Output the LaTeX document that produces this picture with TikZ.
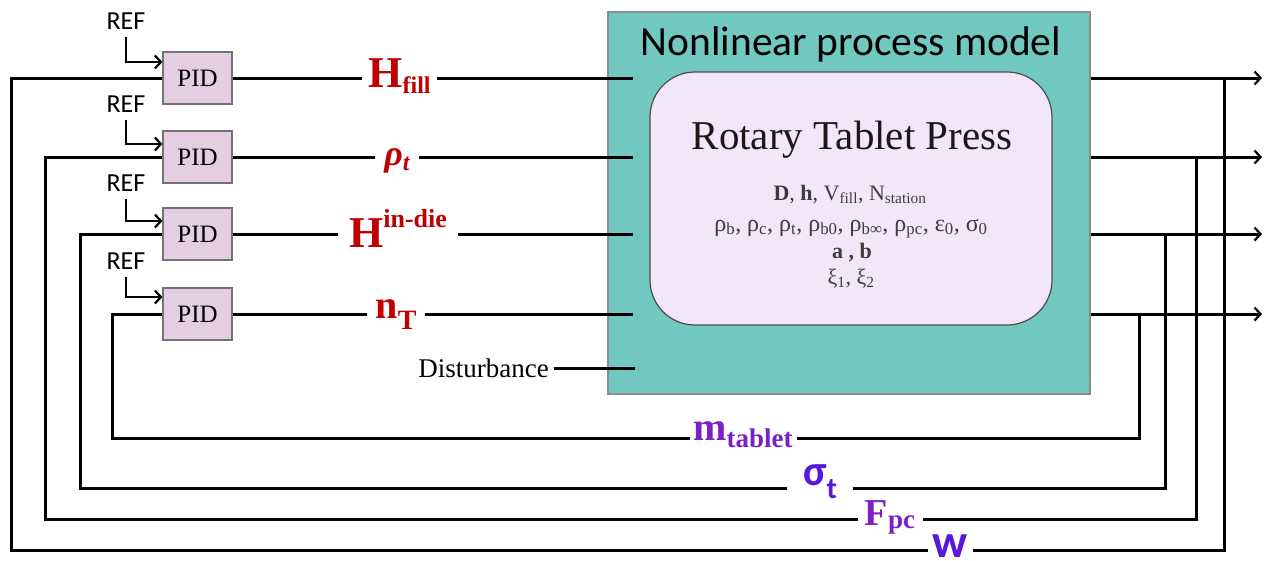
\documentclass[tikz,border=0pt]{standalone}
\usepackage{fontspec}
\setmainfont{Liberation Serif}
\setsansfont{Carlito}
\usetikzlibrary{arrows.meta}

\definecolor{modelgreen}{RGB}{112,200,192}
\definecolor{pressfill}{RGB}{243,230,251}
\definecolor{pidfill}{RGB}{229,206,227}
\definecolor{inred}{RGB}{192,0,0}
\definecolor{fbviolet}{RGB}{122,32,198}
\definecolor{fbblue}{RGB}{88,24,222}
\definecolor{partext}{RGB}{60,60,60}

\newcommand\fs[1]{\fontsize{#1}{#1}\selectfont}

\begin{document}
\begin{tikzpicture}[x=1pt,y=-1pt,
  wire/.style={line width=3pt, black},
  tip/.style={-{Straight Barb[length=6pt,width=13pt,line width=2.2pt]}},
  pidbox/.style={draw=black!55, line width=1.2pt, fill=pidfill, minimum width=69pt,
    minimum height=52pt, inner sep=0pt, font=\fs{25}},
  reftext/.style={font=\sffamily\fs{26}, inner xsep=0pt, inner ysep=8pt, anchor=base},
  sig/.style={fill=white, inner xsep=0pt, inner ysep=3pt, anchor=base},
  param/.style={font=\fs{22}, text=partext, anchor=base, inner sep=0pt}
]
\useasboundingbox (0,0) rectangle (1265,560);

% process model block
\node[draw=black!45, line width=1.2pt, fill=modelgreen, minimum width=482pt,
  minimum height=382pt, inner sep=0pt] (model) at (849,203) {};
\node[draw=black!70, line width=1.2pt, fill=pressfill, rounded corners=45pt,
  minimum width=402pt, minimum height=253pt, inner sep=0pt] (press) at (851,198.5) {};
\node[font=\sffamily\fs{41.5}, anchor=base, inner sep=0pt] (title) at (851,55) {Nonlinear process model};
\node[font=\fs{41}, anchor=base, inner sep=0pt, text=black!90] (rtp) at (852,149) {Rotary Tablet Press};
\node[param] (p1) at (850,200) {\textbf{D}, \textbf{h}, V\textsubscript{fill}, N\textsubscript{station}};
\node[param, font=\fs{24}] (p2) at (851,231) {ρ\textsubscript{b}, ρ\textsubscript{c}, ρ\textsubscript{t}, ρ\textsubscript{b0}, ρ\textsubscript{b∞}, ρ\textsubscript{pc}, ε\textsubscript{0}, σ\textsubscript{0}};
\node[param] (p3) at (852,258) {\textbf{a , b}};
\node[param] (p4) at (851,284) {ξ\textsubscript{1}, ξ\textsubscript{2}};

% controllers
\node[pidbox] (pid1) at (197.5,78) {PID};
\node[pidbox] (pid2) at (197.5,157) {PID};
\node[pidbox] (pid3) at (197.5,234) {PID};
\node[pidbox] (pid4) at (197.5,314) {PID};

\node[reftext] (ref1) at (126,29) {REF};
\node[reftext] (ref2) at (126,112) {REF};
\node[reftext] (ref3) at (126,191) {REF};
\node[reftext] (ref4) at (126,269) {REF};

\node[font=\fs{27}, anchor=east, inner xsep=5pt, inner ysep=0pt] (dist) at (554,368) {Disturbance};

% set points
\draw[wire, line width=2.4pt, tip] (ref1.south) |- ([yshift=16pt]pid1.west);
\draw[wire, line width=2.4pt, tip] (ref2.south) |- ([yshift=13pt]pid2.west);
\draw[wire, line width=2.4pt, tip] (ref3.south) |- ([yshift=13pt]pid3.west);
\draw[wire, line width=2.4pt, tip] (ref4.south) |- ([yshift=17pt]pid4.west);

% manipulated inputs
\coordinate (in1) at (633,78);
\coordinate (in2) at (633,157);
\coordinate (in3) at (633,234);
\coordinate (in4) at (633,314);
\coordinate (in5) at (635,368);
\draw[wire] (pid1.east) -- (in1);
\draw[wire] (pid2.east) -- (in2);
\draw[wire] (pid3.east) -- (in3);
\draw[wire] (pid4.east) -- (in4);
\draw[wire] (dist.east) -- (in5);

% outputs
\coordinate (o1) at (1262,78);
\coordinate (o2) at (1262,157);
\coordinate (o3) at (1262,234);
\coordinate (o4) at (1262,314);
\draw[wire, tip] (model.east |- o1) -- (o1);
\draw[wire, tip] (model.east |- o2) -- (o2);
\draw[wire, tip] (model.east |- o3) -- (o3);
\draw[wire, tip] (model.east |- o4) -- (o4);

% feedback loops
\coordinate (t1) at (1224,78);
\coordinate (t2) at (1196,157);
\coordinate (t3) at (1165,234);
\coordinate (t4) at (1139,314);
\coordinate (b1) at (11,550);
\coordinate (b2) at (45,519);
\coordinate (b3) at (80,488);
\coordinate (b4) at (112,438);
\draw[wire] (t1) |- (b1) |- (pid1.west);
\draw[wire] (t2) |- (b2) |- (pid2.west);
\draw[wire] (t3) |- (b3) |- (pid3.west);
\draw[wire] (t4) |- (b4) |- (pid4.west);

% signal labels
\node[sig, text=inred, minimum width=75pt] (lhfill) at (399.5,87)
  {\fs{44}\bfseries H\raisebox{-6pt}{\fs{24}fill}};
\node[sig, text=inred, minimum width=44pt] (lrho) at (397,165)
  {\fs{36}\bfseries\itshape ρ\raisebox{-5pt}{\fs{24}t}};
\node[sig, text=inred, minimum width=120pt] (lhdie) at (398,247)
  {\fs{44}\bfseries H\raisebox{20pt}{\fs{26}in-die}};
\node[sig, text=inred, minimum width=58pt] (lnt) at (396,318)
  {\fs{40}\bfseries n\raisebox{-11pt}{\fs{28}T}};

\node[sig, text=fbviolet, minimum width=107pt] (lm) at (743,440)
  {\fs{40}\bfseries m\raisebox{-7pt}{\fs{27}tablet}};
\node[sig, text=fbblue, minimum width=66pt] (lsig) at (820,485)
  {\sffamily\bfseries\fs{43}σ\raisebox{-13pt}{\fs{30}t}};
\node[sig, text=fbviolet, minimum width=65pt] (lf) at (890,525)
  {\fs{38}\bfseries F\raisebox{-3pt}{\fs{27}pc}};
\node[sig, text=fbblue, minimum width=45pt] (lw) at (950,557)
  {\sffamily\bfseries\fs{47}w};
\end{tikzpicture}
\end{document}
